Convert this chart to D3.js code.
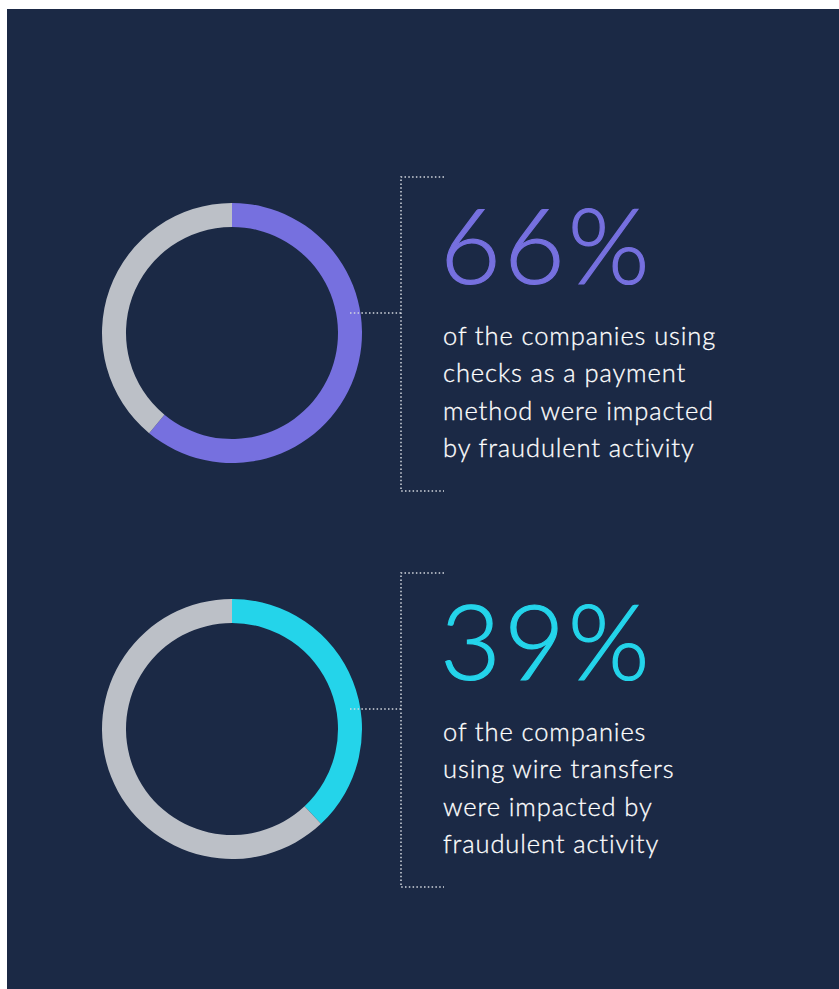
<!DOCTYPE html>
<html>
<head>
<meta charset="utf-8">
<script src="https://cdn.jsdelivr.net/npm/d3@7"></script>
<style>
  body { margin: 0; background: #fff; }
  text { font-family: Lato, "Open Sans", sans-serif; }
</style>
</head>
<body>
<div id="chart"></div>
<script>
// share of companies impacted, per payment method
var methods = ["checks", "wire transfers"];
var labels = ["66%", "39%"];
// share covered by the coloured ring, as drawn
var ringShare = [61, 38];
var captions = [
  ["of the companies using", "checks as a payment", "method were impacted", "by fraudulent activity"],
  ["of the companies", "using wire transfers", "were impacted by", "fraudulent activity"]
];
var colors = ["#7670df", "#24d4ea"];

var width = 839, height = 989;

var svg = d3.select("#chart")
  .append("svg")
    .attr("width", width)
    .attr("height", height);

svg.append("rect")
    .attr("x", 7)
    .attr("y", 9)
    .attr("width", width - 7)
    .attr("height", height - 9)
    .attr("fill", "#1b2945");

var pie = d3.pie().sort(null).value(function(d) { return d; });
var arc = d3.arc().innerRadius(106).outerRadius(130);

// vertical position of each block
var y = d3.scaleLinear().domain([0, 1]).range([333, 729]);

methods.forEach(function(m, i) {
  var cy = y(i);
  var g = svg.append("g").attr("transform", "translate(232," + cy + ")");

  g.selectAll("path")
    .data(pie([ringShare[i], 100 - ringShare[i]]))
    .enter()
    .append("path")
      .attr("d", arc)
      .attr("fill", function(d, j) { return j == 0 ? colors[i] : "#bcc0c7"; });

  // dotted bracket
  var dots = svg.append("g")
    .attr("fill", "none")
    .attr("stroke", "#d4d7de")
    .attr("stroke-width", 1.5)
    .attr("stroke-dasharray", "1.5,2.3");
  var top = cy - 156, bot = cy + 158, mid = cy - 20;
  dots.append("path").attr("d", "M444," + top + "H401V" + bot + "H444");
  dots.append("path").attr("d", "M350," + mid + "H401");

  svg.append("text")
    .attr("x", 440)
    .attr("y", cy - 49)
    .attr("fill", colors[i])
    .attr("font-size", 105)
    .attr("font-weight", 300)
    .attr("letter-spacing", 3)
    .style("stroke", colors[i])
    .style("stroke-width", 1.2)
    .text(labels[i]);

  svg.selectAll(null)
    .data(captions[i])
    .enter()
    .append("text")
      .attr("x", 443)
      .attr("y", function(d, k) { return cy + 12 + k * 37.3; })
      .attr("fill", "#ffffff")
      .attr("font-size", 25.5)
      .attr("font-weight", 300)
      .attr("letter-spacing", 0.9)
      .style("stroke", "#ffffff")
      .style("stroke-width", 0.3)
      .text(function(d) { return d; });
});
</script>
</body>
</html>
